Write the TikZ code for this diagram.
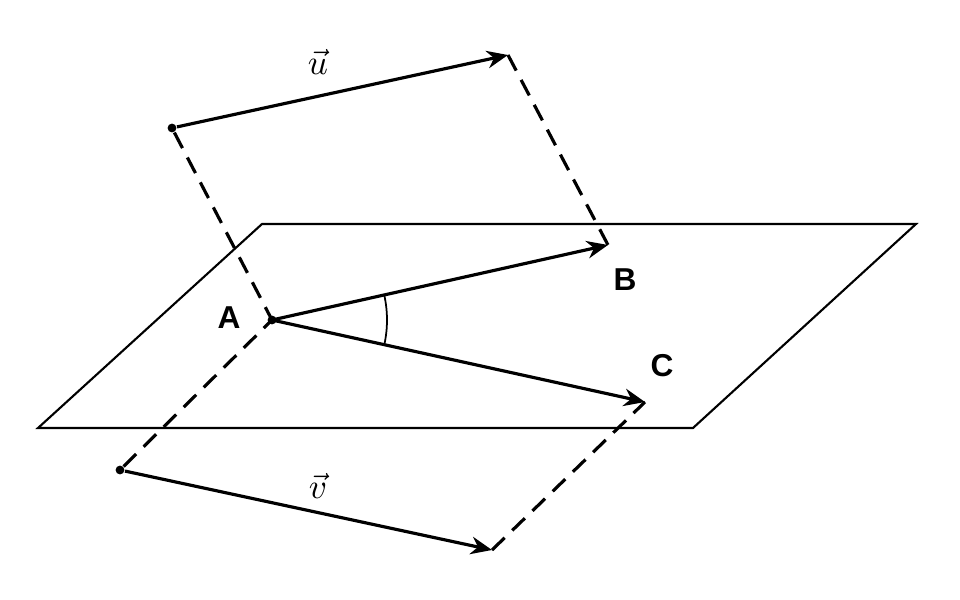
\documentclass[tikz,border=0pt]{standalone}
\usepackage{fontspec}
\setsansfont{Liberation Sans}
\usetikzlibrary{arrows.meta,positioning,calc}
\tikzset{
  vec/.style={line width=0.9pt, -{Stealth[length=6pt,width=5pt]}},
  proj/.style={line width=0.9pt, dashed, dash pattern=on 5pt off 3pt},
  pt/.style={font=\sffamily\bfseries\fontsize{9}{10}\selectfont},
  dot/.style={circle, fill, inner sep=0pt, minimum size=2.5pt}
}
\begin{document}
\begin{tikzpicture}[x=0.01cm,y=-0.01cm]
    \useasboundingbox (0,0) rectangle (960,600);
    % Plane
    \draw[line width=0.6pt] (262,224) -- (916,224) -- (693,428) -- (38,428) -- cycle;

    % Points
    \coordinate (A) at (272,320);
    \coordinate (B) at (608,245);
    \coordinate (C) at (645,402);
    \node[dot] (u0) at (172,128) {};
    \coordinate (u1) at (508,55);
    \node[dot] (v0) at (120,470) {};
    \coordinate (v1) at (492,550);
    \node[dot] at (A) {};

    % Vectors u and v
    \draw[vec] (u0) -- (u1);
    \draw[vec] (v0) -- (v1);
    \node (lu) at (318,62) {$\vec{u}$};
    \node (lv) at (318,486) {$\vec{v}$};

    % Projections
    \draw[proj] (u1) -- (B);
    \draw[proj] (u0) -- (A);
    \draw[proj] (v1) -- (C);
    \draw[proj] (v0) -- (A);

    % Vectors AB and AC
    \draw[vec] (A) -- (B);
    \draw[vec] (A) -- (C);
    \draw[line width=0.5pt] ($(A)+(-12.6:115)$) arc[start angle=-12.6, end angle=12.4, radius=115];

    % Labels
    \node[pt] (lA) at (229,318) {A};
    \node[pt] (lB) at (625,280) {B};
    \node[pt] (lC) at (662,366) {C};
\end{tikzpicture}
\end{document}
